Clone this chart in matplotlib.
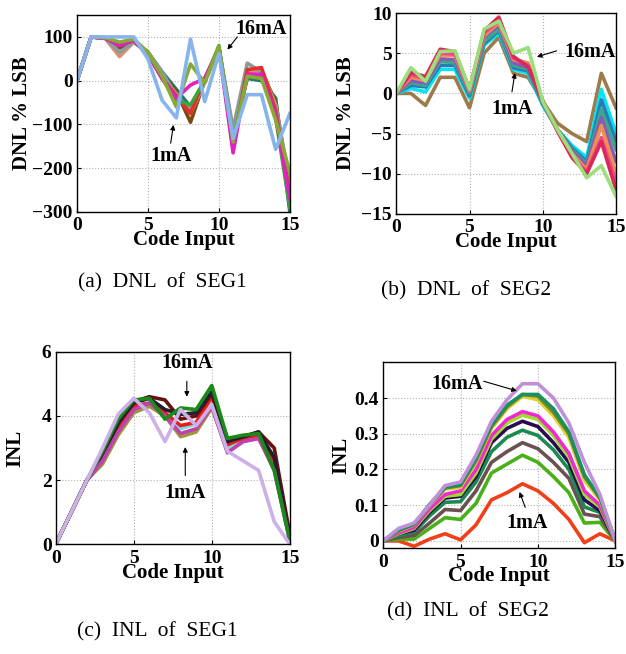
import matplotlib
matplotlib.use("Agg")
import matplotlib.pyplot as plt

plt.rcParams['font.family'] = ['Liberation Serif', 'DejaVu Serif']

# Codigo de entrada
codes = list(range(16))

# --------------------------------
# (a) DNL SEG1
# --------------------------------
a_blue = [0, 100, 100, 100, 100, 50, -45, -85, 95, -48, 62, -132, -32, -32, -157, -75]
a_teal = [0, 100, 97, 78, 90, 65, 20, -20, -60, 0, 75, -125, 5, 0, -40, -300]
a_brown = [0, 100, 97, 75, 90, 65, 15, -25, -95, 0, 75, -120, 25, 25, -50, -250]
a_salmon = [0, 100, 96, 55, 88, 62, 10, -30, -75, -5, 73, -130, 20, 25, -55, -240]
a_gray = [0, 100, 97, 65, 88, 65, 20, -35, -65, 0, 75, -110, 40, 20, -60, -230]
a_red = [0, 100, 97, 82, 92, 60, 5, -35, -75, 5, 75, -150, 25, 30, -70, -260]
a_green = [0, 100, 98, 85, 95, 63, 5, -45, -55, 0, 80, -145, 12, 10, -85, -290]
a_magenta = [0, 100, 97, 80, 92, 60, 5, -40, -10, 5, 72, -165, 15, 15, -80, -270]
a_olive = [0, 100, 98, 88, 95, 65, 10, -60, 38, -5, 78, -140, 10, 5, -90, -210]

# --------------------------------
# (b) DNL SEG2
# --------------------------------
b_brown = [0, 0, -1.5, 2, 2, -1.8, 5, 7, 2.5, 2, -1, -3.7, -5, -6, 2.5, -1.8]
b_cyan = [0, 0.6, 0.2, 3, 3, -0.6, 6, 7.5, 3, 2.5, -1.5, -4.5, -6.5, -8, 0.5, -5]
b_blue = [0, 1, 0.8, 3.5, 3.5, -0.3, 6.2, 7.8, 3.2, 2.8, -1.3, -4.5, -6.8, -8.5, -0.8, -6]
b_teal = [0, 1.3, 1, 4, 3.8, 0, 6.5, 8, 3.5, 3, -1.2, -4.5, -7, -8.8, -2, -7]
b_purple = [0, 1.6, 1.3, 4.3, 4.2, 0.2, 7, 8.5, 3.8, 3.2, -1.1, -4.5, -7.2, -9, -3, -8.5]
b_orange = [0, 2, 1.6, 4.8, 4.7, 0.3, 7.2, 8.8, 4.2, 3.8, -1, -4.5, -7.5, -9.5, -4, -10]
b_pink = [0, 2.3, 1.8, 5, 4.9, 0.4, 7.5, 9, 4.4, 3.5, -1, -4.6, -7.8, -9.8, -5.5, -11]
b_red = [0, 2.6, 2.1, 5.5, 5.2, 0.5, 7.8, 9.5, 4.6, 3.3, -0.9, -4.7, -8, -10, -6, -12]
b_green = [0, 3.2, 1.5, 5.2, 5.3, 0.5, 8, 9, 5, 5.7, -1, -4.5, -7.5, -10.5, -9, -12.8]

# --------------------------------
# (c) INL SEG1
# --------------------------------
c_olive = [0, 1, 2, 2.5, 3.4, 4.1, 4.3, 4.0, 3.35, 3.5, 4.25, 2.9, 3.2, 3.3, 2.4, 0.2]
c_cyan = [0, 1, 2, 2.6, 3.6, 4.3, 4.4, 4.05, 3.6, 3.75, 4.5, 3.0, 3.3, 3.5, 2.5, 0.2]
c_red = [0, 1, 2, 2.6, 3.6, 4.3, 4.4, 4.1, 3.7, 3.8, 4.6, 3.1, 3.3, 3.4, 2.6, 0.2]
c_darkred = [0, 1, 2, 2.7, 3.75, 4.45, 4.6, 4.5, 3.9, 4.0, 4.7, 3.3, 3.35, 3.5, 3.0, 0.3]
c_black = [0, 1, 2, 2.75, 3.8, 4.4, 4.55, 4.2, 4.05, 4.1, 4.75, 3.2, 3.35, 3.5, 2.7, 0.2]
c_magenta = [0, 1, 2, 2.6, 3.5, 4.2, 4.4, 4.0, 3.45, 3.6, 4.3, 2.85, 3.2, 3.3, 2.3, 0.1]
c_green = [0, 1, 2, 2.9, 3.9, 4.5, 4.55, 3.9, 4.25, 4.2, 4.95, 3.3, 3.4, 3.45, 2.3, 0.1]
c_lav = [0, 1, 2, 3, 4.05, 4.55, 4.1, 3.2, 4.2, 3.7, 4.35, 2.9, 2.6, 2.3, 0.7, 0]

# --------------------------------
# (d) INL SEG2
# --------------------------------
d_red = [0, 0, -0.015, 0.005, 0.02, 0.003, 0.045, 0.115, 0.135, 0.16, 0.14, 0.105, 0.06, -0.005, 0.02, 0]
d_green = [0, 0.005, 0.005, 0.035, 0.065, 0.06, 0.105, 0.19, 0.215, 0.24, 0.22, 0.18, 0.135, 0.05, 0.052, 0]
d_brown = [0, 0.01, 0.015, 0.05, 0.088, 0.085, 0.14, 0.22, 0.25, 0.275, 0.258, 0.22, 0.175, 0.075, 0.068, 0]
d_teal = [0, 0.015, 0.025, 0.07, 0.108, 0.11, 0.165, 0.25, 0.29, 0.31, 0.295, 0.255, 0.2, 0.095, 0.08, 0]
d_navy = [0, 0.02, 0.03, 0.08, 0.12, 0.125, 0.18, 0.275, 0.315, 0.335, 0.32, 0.275, 0.22, 0.115, 0.085, 0]
d_lime = [0, 0.02, 0.035, 0.085, 0.125, 0.13, 0.19, 0.285, 0.33, 0.352, 0.34, 0.295, 0.235, 0.13, 0.095, 0]
d_magenta = [0, 0.022, 0.038, 0.09, 0.13, 0.14, 0.2, 0.295, 0.34, 0.362, 0.35, 0.305, 0.245, 0.14, 0.1, 0]
d_yellow = [0, 0.028, 0.045, 0.1, 0.145, 0.15, 0.22, 0.315, 0.37, 0.405, 0.395, 0.35, 0.29, 0.17, 0.115, 0]
d_olive = [0, 0.03, 0.046, 0.1, 0.148, 0.155, 0.225, 0.32, 0.375, 0.41, 0.405, 0.36, 0.3, 0.18, 0.12, 0]
d_dkgreen = [0, 0.03, 0.047, 0.102, 0.15, 0.157, 0.23, 0.325, 0.38, 0.41, 0.41, 0.37, 0.305, 0.185, 0.122, 0]
d_lav = [0, 0.035, 0.05, 0.1, 0.155, 0.165, 0.24, 0.335, 0.395, 0.44, 0.44, 0.4, 0.33, 0.22, 0.13, 0]

lw = 2.6
fs_tick = 14
fs_lab = 15
fs_note = 14.5

fig = plt.figure(figsize=(6.26, 6.54), dpi=100)


def estilo(ax, ylim, yticks, ylabel, ypad, fmt=None):
    ax.set_xlim(0, 15)
    ax.set_ylim(*ylim)
    ax.set_xticks([0, 5, 10, 15])
    ax.set_yticks(yticks)
    if fmt:
        ax.set_yticklabels([fmt.format(v) for v in yticks])
    ax.grid(True, linestyle=':', color='#b0b0b0', linewidth=0.8)
    ax.tick_params(direction='in', length=3, labelsize=fs_tick)
    ax.tick_params(axis='x', pad=4)
    ax.tick_params(axis='y', pad=3)
    for lab in ax.get_xticklabels() + ax.get_yticklabels():
        lab.set_fontweight('bold')
    ax.set_xlabel("Code Input", fontsize=fs_lab, fontweight='bold', labelpad=-3)
    ax.set_ylabel(ylabel, fontsize=fs_lab, fontweight='bold', labelpad=ypad)
    for s in ax.spines.values():
        s.set_linewidth(1.0)


def flecha(ax, txt, xytext, start, end):
    ax.text(xytext[0], xytext[1], txt, fontsize=fs_note, fontweight='bold',
            ha='center', va='center')
    ax.annotate('', xy=end, xytext=start,
                arrowprops=dict(arrowstyle='-|>', color='black', lw=0.8,
                                mutation_scale=7, shrinkA=0, shrinkB=0))


# (a)
ax1 = fig.add_axes([0.123, 0.676, 0.340, 0.301])
for serie, col in [(a_teal, '#1f7a6f'), (a_brown, '#7a4a10'), (a_salmon, '#d9906e'),
                   (a_gray, '#8c9a9a'), (a_red, '#e0302a'), (a_green, '#3aa53a'),
                   (a_magenta, '#e020c0'), (a_olive, '#88aa33'), (a_blue, '#88b4ee')]:
    ax1.plot(codes, serie, color=col, linewidth=lw)
estilo(ax1, (-300, 150), [-300, -200, -100, 0, 100], "DNL % LSB", 0)
flecha(ax1, "16mA", (13.0, 119), (11.3, 100), (10.6, 71))
flecha(ax1, "1mA", (6.6, -172), (6.6, -143), (6.8, -101))

# (b)
ax2 = fig.add_axes([0.633, 0.673, 0.351, 0.307])
for serie, col in [(b_brown, '#9c7a4a'), (b_cyan, '#00e5ee'), (b_blue, '#2a7ab8'),
                   (b_teal, '#3aa88a'), (b_purple, '#8a5ab8'), (b_orange, '#f0904a'),
                   (b_pink, '#f04a8a'), (b_red, '#d82a5a'), (b_green, '#99e07a')]:
    ax2.plot(codes, serie, color=col, linewidth=lw)
estilo(ax2, (-15, 10), [-15, -10, -5, 0, 5, 10], "DNL % LSB", 4)
flecha(ax2, "16mA", (13.2, 5.1), (10.95, 5.3), (9.6, 4.55))
flecha(ax2, "1mA", (7.9, -2.0), (7.9, 0.2), (8.1, 2.55))

# (c)
ax3 = fig.add_axes([0.089, 0.168, 0.374, 0.294])
for serie, col in [(c_olive, '#9a9a3a'), (c_cyan, '#7ae0e0'), (c_red, '#ee1a1a'),
                   (c_darkred, '#6a1010'), (c_black, '#202030'), (c_magenta, '#c040b0'),
                   (c_green, '#1a8a1a'), (c_lav, '#cdb0e8')]:
    ax3.plot(codes, serie, color=col, linewidth=lw)
estilo(ax3, (0, 6), [0, 2, 4, 6], "INL", 12)
flecha(ax3, "16mA", (8.4, 5.66), (8.4, 5.08), (8.4, 4.6))
flecha(ax3, "1mA", (8.3, 1.6), (8.3, 2.14), (8.3, 3.03))

# (d)
ax4 = fig.add_axes([0.612, 0.162, 0.371, 0.284])
for serie, col in [(d_red, '#f0401a'), (d_green, '#4ab01a'), (d_brown, '#6a5050'),
                   (d_teal, '#1a8a50'), (d_navy, '#2a0a50'), (d_lime, '#9ae02a'),
                   (d_magenta, '#f02ad0'), (d_yellow, '#e0d030'), (d_olive, '#7a8a20'),
                   (d_dkgreen, '#1a9060'), (d_lav, '#c090d8')]:
    ax4.plot(codes, serie, color=col, linewidth=lw)
estilo(ax4, (-0.02, 0.5), [0, 0.1, 0.2, 0.3, 0.4], "INL", 2, fmt="{:g}")
flecha(ax4, "16mA", (4.75, 0.44), (6.5, 0.447), (8.64, 0.42))
flecha(ax4, "1mA", (9.3, 0.05), (9.18, 0.094), (8.81, 0.137))

# Leyendas de cada figura
cap = dict(ha='center', va='center', fontsize=15.5)
fig.text(0.260, 0.567, "(a)  DNL  of  SEG1", **cap)
fig.text(0.745, 0.556, "(b)  DNL  of  SEG2", **cap)
fig.text(0.252, 0.034, "(c)  INL  of  SEG1", **cap)
fig.text(0.748, 0.064, "(d)  INL  of  SEG2", **cap)

fig.savefig("out.png", dpi=100)
